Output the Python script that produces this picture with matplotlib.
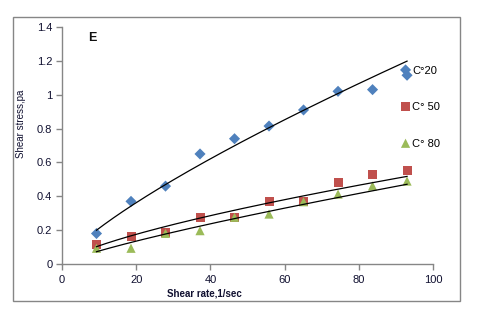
import numpy as np
import matplotlib
matplotlib.use("Agg")
import matplotlib.pyplot as plt
from matplotlib.patches import Rectangle

plt.rcParams['font.family'] = ['Liberation Sans', 'DejaVu Sans']

# Shear rate (1/sec) and measured shear stress (pa) at three temperatures
shear_rate = [9.3, 18.6, 27.9, 37.2, 46.5, 55.8, 65.1, 74.4, 83.7, 93.0]
stress_20 = [0.18, 0.37, 0.46, 0.65, 0.74, 0.815, 0.91, 1.02, 1.03, 1.115]
stress_50 = [0.117, 0.164, 0.186, 0.274, 0.277, 0.368, 0.37, 0.482, 0.526, 0.555]
stress_80 = [0.093, 0.093, 0.181, 0.197, 0.276, 0.295, 0.368, 0.413, 0.461, 0.49]
labels = ['C\u00b020', 'C\u00b0 50', 'C\u00b0 80']
colors = ['#4F81BD', '#C0504D', '#9BBB59']
markers = ['D', 's', '^']
msizes = [32, 42, 44]

x_ticks = [0, 20, 40, 60, 80, 100]
y_ticks = [0, 0.2, 0.4, 0.6, 0.8, 1.0, 1.2, 1.4]
y_ticklabels = ['0', '0.2', '0.4', '0.6', '0.8', '1', '1.2', '1.4']

fig = plt.figure(figsize=(4.78, 3.26), dpi=100)
ax = fig.add_axes([0.1297, 0.1902, 0.7762, 0.7270])

# outer chart border
fig.patches.append(Rectangle((0.0272, 0.0767), 0.9351, 0.8712, transform=fig.transFigure,
                             fill=False, edgecolor='#868686', linewidth=1.0))

x = np.array(shear_rate)
handles = []
for ys, lab, c, m, s in zip([stress_20, stress_50, stress_80], labels, colors, markers, msizes):
    y = np.array(ys)
    h = ax.scatter(x, y, marker=m, s=s, color=c, edgecolors='none', label=lab, zorder=3)
    handles.append(h)
    # power-law trendline, fitted in log-log space
    b, loga = np.polyfit(np.log(x), np.log(y), 1)
    xf = np.linspace(x.min(), x.max(), 200)
    ax.plot(xf, np.exp(loga) * xf ** b, color='black', linewidth=0.9, zorder=4)

ax.set_xlim(0, 100)
ax.set_ylim(0, 1.4)
ax.set_xticks(x_ticks)
ax.set_yticks(y_ticks)
ax.set_yticklabels(y_ticklabels)

for side in ['top', 'right']:
    ax.spines[side].set_visible(False)
for side in ['left', 'bottom']:
    ax.spines[side].set_color('#868686')
    ax.spines[side].set_linewidth(1.0)
ax.tick_params(direction='out', length=4, width=1.0, color='#868686',
               labelsize=8, labelcolor='#101030', pad=3)
ax.tick_params(axis='x', pad=4)

ax.set_xlabel('Shear rate,1/sec', fontsize=7, fontweight='bold', color='#101030')
ax.xaxis.set_label_coords(0.385, -0.105)
ax.set_ylabel('Shear stress,pa', fontsize=7, color='#101030')
ax.yaxis.set_label_coords(-0.097, 0.59)

ax.text(0.07, 0.955, 'E', transform=ax.transAxes, fontsize=9, fontweight='bold',
        ha='left', va='center', color='#101010')

ax.legend(handles=handles, loc='upper left', bbox_to_anchor=(0.899, 0.855), frameon=False,
          fontsize=8, labelspacing=2.4, handletextpad=0.1, handlelength=1.0,
          borderaxespad=0, scatteryoffsets=[0.5])

fig.savefig('out.png', dpi=100)
